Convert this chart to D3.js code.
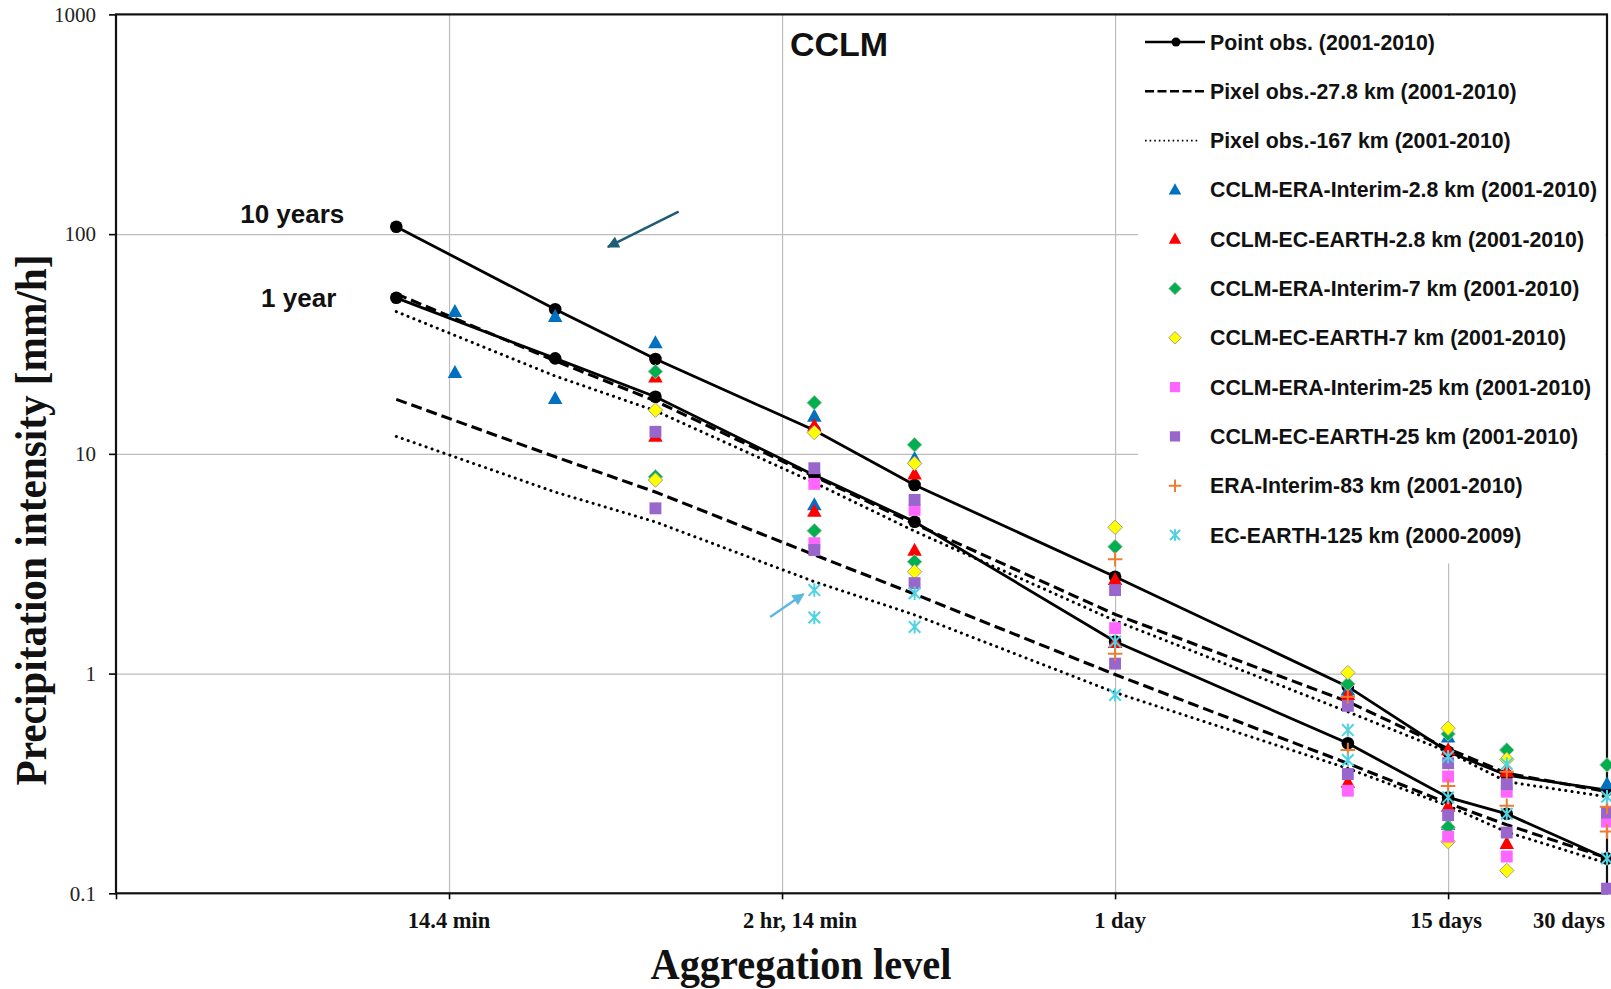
<!DOCTYPE html>
<html><head><meta charset="utf-8">
<script src="https://cdn.jsdelivr.net/npm/d3@7"></script>
<style>body{margin:0;background:#fff;} svg{display:block}</style>
</head><body>
<svg id="chart" width="1611" height="989"></svg>
<script>
// ---------------- DATA ----------------
// aggregation levels in days
const lineDurations   = [1/144, 1/48, 1/24, 1/8, 1/4, 1, 5, 10, 15, 30];   // 10min..30days
const markerDurations = [1/96, 1/48, 1/24, 1/8, 1/4, 1, 5, 10, 15, 30];    // 15min..30days

const xTickValues = [0.01, 0.1, 1, 10, 30];
const xTickLabels = ["14.4 min", "2 hr, 14 min", "1 day", "15 days", "30 days"];
const yTickValues = [0.1, 1, 10, 100, 1000];
const yTickLabels = ["0.1", "1", "10", "100", "1000"];

const pointObs10yr  = [108, 45.5, 27.0, 12.8, 7.22, 2.76, 0.872, 0.441, 0.345, 0.295];
const pointObs1yr   = [51.3, 27.2, 18.2, 8.0, 4.91, 1.40, 0.482, 0.273, 0.230, 0.144];
const pixel278Upper = [53.5, 26.5, 17.4, 7.9, 4.8, 1.86, 0.745, 0.455, 0.352, 0.290];
const pixel278Lower = [17.7, 9.7, 6.7, 3.47, 2.3, 0.99, 0.39, 0.257, 0.205, 0.145];
const pixel167Upper = [44.4, 22.6, 15.7, 7.4, 4.45, 1.74, 0.67, 0.44, 0.322, 0.275];
const pixel167Lower = [12.0, 6.7, 4.9, 2.62, 1.85, 0.82, 0.37, 0.25, 0.19, 0.137];

// model markers (values at markerDurations; null = no marker)
const eraInt28_10yr = [44.3, 42.1, 31.9, 14.8, 9.5, null, 0.84, 0.513, null, 0.314];
const eraInt28_1yr  = [23.4, 17.8, null, 5.85, null, null, null, 0.205, null, null];
const ecEarth28_10yr = [null, null, 22.3, 13.4, 8.07, 2.67, 0.80, 0.449, 0.357, null];
const ecEarth28_1yr  = [null, null, 12.0, 5.46, 3.63, 1.38, 0.319, 0.248, 0.168, null];
const eraInt7_10yr = [null, null, 23.7, 17.1, 11.0, 3.78, 0.897, 0.531, 0.449, 0.384];
const eraInt7_1yr  = [null, null, 7.87, 4.47, 3.23, null, null, 0.200, null, null];
const ecEarth7_10yr = [null, null, 15.8, 12.5, 9.05, 4.63, 1.01, 0.564, 0.407, null];
const ecEarth7_1yr  = [null, null, 7.6, null, 2.91, null, null, 0.172, 0.127, null];
const eraInt25_10yr = [null, null, null, 7.3, 5.56, 1.61, null, 0.340, 0.290, 0.212];
const eraInt25_1yr  = [null, null, null, 3.92, null, null, 0.293, 0.181, 0.147, null];
const ecEarth25_10yr = [null, null, 12.6, 8.6, 6.17, 2.40, 0.713, 0.391, 0.314, 0.233];
const ecEarth25_1yr  = [null, null, 5.65, 3.65, 2.58, 1.11, 0.349, 0.227, 0.189, 0.105];
const eraInt83_10yr = [null, null, null, null, null, 3.31, 0.785, null, 0.357, 0.248];
const eraInt83_1yr  = [null, null, null, null, null, 1.23, 0.449, 0.308, 0.250, 0.191];
const ecEarth125_10yr = [null, null, null, 2.40, 2.32, 1.40, 0.553, 0.419, 0.388, 0.275];
const ecEarth125_1yr  = [null, null, null, 1.80, 1.63, 0.80, 0.404, 0.273, 0.230, 0.144];

const lineSeriesNames = ["Point obs. (2001-2010)", "Pixel obs.-27.8 km (2001-2010)", "Pixel obs.-167 km (2001-2010)"];
const markerSeriesNames = [
  "CCLM-ERA-Interim-2.8 km (2001-2010)", "CCLM-EC-EARTH-2.8 km (2001-2010)",
  "CCLM-ERA-Interim-7 km (2001-2010)", "CCLM-EC-EARTH-7 km (2001-2010)",
  "CCLM-ERA-Interim-25 km (2001-2010)", "CCLM-EC-EARTH-25 km (2001-2010)",
  "ERA-Interim-83 km (2001-2010)", "EC-EARTH-125 km (2000-2009)"];
const returnPeriodLabels = ["10 years", "1 year"];

// annotation arrows (data coordinates: [days, mm/h])
const arrowNotes = [
  {from: [0.0489, 126.6], to: [0.0300, 87.5], color: "#1F5C75"},
  {from: [0.0921, 1.81],  to: [0.1160, 2.30], color: "#5BB8DE"}
];

// ---------------- STYLE / LAYOUT ----------------
const markerStyles = [
  {shape: "triangle", fill: "#0070C0", stroke: "none"},
  {shape: "triangle", fill: "#FF0000", stroke: "none"},
  {shape: "diamond",  fill: "#00B050", stroke: "#9DBF9D"},
  {shape: "diamond",  fill: "#FFFF00", stroke: "#A8A08A"},
  {shape: "square",   fill: "#FF66FF", stroke: "none"},
  {shape: "square",   fill: "#9966CC", stroke: "none"},
  {shape: "plus",     fill: "none",    stroke: "#ED7D31"},
  {shape: "star",     fill: "none",    stroke: "#4FD2E2"}
];
const markerData = [
  [eraInt28_10yr, eraInt28_1yr], [ecEarth28_10yr, ecEarth28_1yr],
  [eraInt7_10yr, eraInt7_1yr], [ecEarth7_10yr, ecEarth7_1yr],
  [eraInt25_10yr, eraInt25_1yr], [ecEarth25_10yr, ecEarth25_1yr],
  [eraInt83_10yr, eraInt83_1yr], [ecEarth125_10yr, ecEarth125_1yr]
];
const xLabelNudge = [0, 18, 5, -2, -38];

const svg = d3.select("#chart");
const L = 116, R = 1607, T = 14.4, B = 893.3;
const x = d3.scaleLog().domain([0.001, 30]).range([L, R]);
const y = d3.scaleLog().domain([0.1, 1000]).range([B, T]);
const SANS = "'Liberation Sans', Arial, sans-serif";
const SERIF = "'Liberation Serif', 'Times New Roman', serif";

// gridlines
svg.append("g").attr("transform", `translate(0,${B})`)
  .call(d3.axisBottom(x).tickValues([0.01, 0.1, 1, 10]).tickSize(-(B - T)).tickFormat(""))
  .call(g => g.select(".domain").remove())
  .call(g => g.selectAll("line").attr("stroke", "#BDBDBD").attr("stroke-width", 1.2));
svg.append("g").attr("transform", `translate(${L},0)`)
  .call(d3.axisLeft(y).tickValues([1, 10, 100]).tickSize(-(R - L)).tickFormat(""))
  .call(g => g.select(".domain").remove())
  .call(g => g.selectAll("line").attr("stroke", "#BDBDBD").attr("stroke-width", 1.2));

// legend background
svg.append("rect").attr("x", 1138).attr("y", T + 1.5).attr("width", R - 1138 - 1.5).attr("height", 562 - T)
  .attr("fill", "#fff");

// axes (ticks + labels)
const yAx = svg.append("g").attr("transform", `translate(${L},0)`)
  .call(d3.axisLeft(y).tickValues(yTickValues).tickSize(7).tickPadding(13)
    .tickFormat((d, i) => yTickLabels[i]));
yAx.select(".domain").remove();
yAx.selectAll("line").attr("stroke", "#000").attr("stroke-width", 1.6);
yAx.selectAll("text").attr("font-family", SERIF).attr("font-size", 21).attr("fill", "#222");

const xAx = svg.append("g").attr("transform", `translate(0,${B})`)
  .call(d3.axisBottom(x).tickValues([0.001, 0.01, 0.1, 1, 10]).tickSize(6).tickFormat(""));
xAx.select(".domain").remove();
xAx.selectAll("line").attr("stroke", "#000").attr("stroke-width", 1.6);

svg.append("g").selectAll("text").data(xTickValues).join("text")
  .attr("x", (d, i) => x(d) + xLabelNudge[i]).attr("y", 928)
  .attr("text-anchor", "middle")
  .attr("font-family", SERIF).attr("font-weight", "bold").attr("font-size", 22.5).attr("fill", "#111")
  .text((d, i) => xTickLabels[i]);

// frame
svg.append("rect").attr("x", L).attr("y", T).attr("width", R - L).attr("height", B - T)
  .attr("fill", "none").attr("stroke", "#111").attr("stroke-width", 2.2);

// lines
const line = d3.line().x(d => x(d[0])).y(d => y(d[1]));
const zipLine = vals => lineDurations.map((d, i) => [d, vals[i]]);
const lineG = svg.append("g").attr("fill", "none").attr("stroke", "#000");
[pixel278Upper, pixel278Lower].forEach(v => lineG.append("path").attr("d", line(zipLine(v)))
  .attr("stroke-width", 3.1).attr("stroke-dasharray", "11,5"));
[pixel167Upper, pixel167Lower].forEach(v => lineG.append("path").attr("d", line(zipLine(v)))
  .attr("stroke-width", 3.0).attr("stroke-dasharray", "0.1,6.2").attr("stroke-linecap", "round"));
[pointObs10yr, pointObs1yr].forEach(v => {
  lineG.append("path").attr("d", line(zipLine(v))).attr("stroke-width", 2.8);
  svg.append("g").selectAll("circle").data(zipLine(v)).join("circle")
    .attr("cx", d => x(d[0])).attr("cy", d => y(d[1])).attr("r", 6.3).attr("fill", "#000");
});

// marker shapes
function markerPath(shape, s) {
  const p = d3.path();
  if (shape === "triangle") { const h = s * 0.9; p.moveTo(0, -h * 0.6); p.lineTo(s / 2, h * 0.4); p.lineTo(-s / 2, h * 0.4); p.closePath(); }
  else if (shape === "diamond") { const r = s / 2; p.moveTo(0, -r); p.lineTo(r, 0); p.lineTo(0, r); p.lineTo(-r, 0); p.closePath(); }
  else if (shape === "square") { const r = s / 2 * 0.82; p.rect(-r, -r, 2 * r, 2 * r); }
  else if (shape === "plus") { const r = s / 2; p.moveTo(-r, 0); p.lineTo(r, 0); p.moveTo(0, -r); p.lineTo(0, r); }
  else if (shape === "star") { const r = s / 2 * 0.8; p.moveTo(-r, -r); p.lineTo(r, r); p.moveTo(r, -r); p.lineTo(-r, r); p.moveTo(0, -r * 1.15); p.lineTo(0, r * 1.15); }
  return p.toString();
}
function drawMarker(g, st, cx, cy, s) {
  g.append("path").attr("d", markerPath(st.shape, s)).attr("transform", `translate(${cx},${cy})`)
    .attr("fill", st.fill).attr("stroke", st.stroke)
    .attr("stroke-width", (st.shape === "plus" || st.shape === "star") ? 2 : 1);
}
const mG = svg.append("g");
markerData.forEach((pair, si) => {
  pair.forEach(vals => vals.forEach((v, i) => {
    if (v == null) return;
    drawMarker(mG, markerStyles[si], x(markerDurations[i]), y(v), 14.5);
  }));
});

// return period labels
[pointObs10yr, pointObs1yr].forEach((v, i) => {
  svg.append("text").attr("x", x(lineDurations[0]) - (i === 0 ? 52 : 60))
    .attr("y", y(v[0]) + (i === 0 ? -4 : 9)).attr("text-anchor", "end")
    .attr("font-family", SANS).attr("font-weight", "bold").attr("font-size", 26).attr("fill", "#111")
    .text(returnPeriodLabels[i]);
});

// arrows
const defs = svg.append("defs");
arrowNotes.forEach((a, i) => {
  defs.append("marker").attr("id", "ah" + i).attr("viewBox", "0 0 10 10").attr("refX", 9).attr("refY", 5)
    .attr("markerWidth", 5.5).attr("markerHeight", 5).attr("orient", "auto").attr("markerUnits", "strokeWidth")
    .append("path").attr("d", "M0,0 L10,5 L0,10 z").attr("fill", a.color);
  svg.append("line").attr("x1", x(a.from[0])).attr("y1", y(a.from[1]))
    .attr("x2", x(a.to[0])).attr("y2", y(a.to[1]))
    .attr("stroke", a.color).attr("stroke-width", 2.4).attr("marker-end", `url(#ah${i})`);
});

// title
svg.append("text").attr("x", 839).attr("y", 56).attr("text-anchor", "middle")
  .attr("font-family", SANS).attr("font-weight", "bold").attr("font-size", 34).attr("fill", "#111").text("CCLM");

// axis titles
svg.append("text").attr("x", 801).attr("y", 979).attr("text-anchor", "middle")
  .attr("font-family", SERIF).attr("font-weight", "bold").attr("font-size", 44)
  .attr("textLength", 301).attr("lengthAdjust", "spacingAndGlyphs").attr("fill", "#111")
  .text("Aggregation level");
svg.append("text").attr("transform", "translate(46,520) rotate(-90)").attr("text-anchor", "middle")
  .attr("font-family", SERIF).attr("font-weight", "bold").attr("font-size", 44)
  .attr("textLength", 531).attr("lengthAdjust", "spacingAndGlyphs").attr("fill", "#111")
  .text("Precipitation  intensity [mm/h]");

// legend
const legRowY = i => 42 + i * 49.3;
const lg = svg.append("g");
lineSeriesNames.forEach((name, i) => {
  const yy = legRowY(i);
  const ln = lg.append("line").attr("x1", 1145).attr("x2", i === 2 ? 1200 : 1205).attr("y1", yy).attr("y2", yy)
    .attr("stroke", "#000");
  if (i === 0) { ln.attr("stroke-width", 2.4); lg.append("circle").attr("cx", 1176).attr("cy", yy).attr("r", 4.5).attr("fill", "#000"); }
  if (i === 1) ln.attr("stroke-width", 2.6).attr("stroke-dasharray", "9,3.5");
  if (i === 2) ln.attr("stroke-width", 1.8).attr("stroke-dasharray", "1.6,3");
  lg.append("text").attr("x", 1210).attr("y", yy + 7.5).attr("font-family", SANS).attr("font-weight", "bold")
    .attr("font-size", 21.3).attr("fill", "#111").text(name);
});
markerSeriesNames.forEach((name, i) => {
  const yy = legRowY(i + 3);
  drawMarker(lg, markerStyles[i], 1175, yy, 12.5);
  lg.append("text").attr("x", 1210).attr("y", yy + 7.5).attr("font-family", SANS).attr("font-weight", "bold")
    .attr("font-size", 21.3).attr("fill", "#111").text(name);
});
</script>
</body></html>
